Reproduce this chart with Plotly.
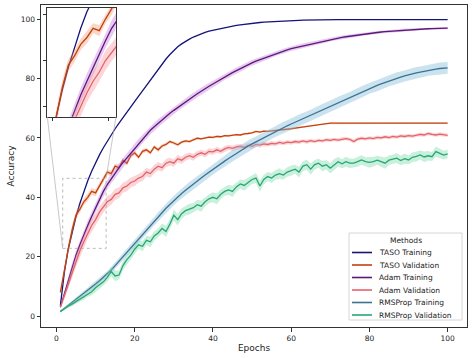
import plotly.graph_objects as go

epochs = list(range(1, 101))

series_names = ["TASO Training", "TASO Validation", "Adam Training",
                "Adam Validation", "RMSProp Training", "RMSProp Validation"]

taso_train = [3.5, 14.5, 22.5, 28.5, 33.5, 38, 42, 45.6, 48.8, 51.7,
              54.3, 56.7, 59, 61.1, 63.1, 65, 66.9, 68.7, 70.5, 72.3,
              74.1, 75.9, 77.7, 79.6, 81.5, 83.3, 85, 86.6, 88.1, 89.5,
              90.7, 91.7, 92.6, 93.3, 94, 94.6, 95.1, 95.6, 96, 96.3,
              96.6, 96.9, 97.2, 97.5, 97.7, 97.9, 98.1, 98.3, 98.5, 98.6,
              98.8, 98.9, 99, 99.1, 99.2, 99.3, 99.4, 99.45, 99.5, 99.55,
              99.6, 99.65, 99.7, 99.75, 99.8, 99.8, 99.82, 99.84, 99.86, 99.88,
              99.9, 99.9, 99.9, 99.9, 99.9, 99.9, 99.9, 99.9, 99.9, 99.9,
              99.9, 99.9, 99.9, 99.9, 99.9, 99.9, 99.9, 99.9, 99.9, 99.9,
              99.9, 99.9, 99.9, 99.9, 99.9, 99.9, 99.9, 99.9, 99.9, 99.9]

taso_val = [8, 16, 22.5, 29, 34, 36, 38.5, 40, 42, 41.5,
            44, 46, 48.5, 48, 50.5, 50, 52.5, 51.5, 54, 55,
            53.5, 55.5, 56, 55, 57, 56, 57.3, 57.8, 58.8, 58.3,
            57.7, 58.6, 59, 58.8, 59.4, 59.9, 59.7, 60.1, 60.3, 60.2,
            60.5, 60.4, 60.8, 60.7, 61, 61.1, 61, 61.4, 61.5, 61.7,
            62.2, 62, 62.3, 62.2, 62.4, 62.5, 62.7, 62.7, 62.9, 63.1,
            63.3, 63.5, 63.7, 63.8, 64.1, 64.3, 64.6, 64.8, 64.9, 65,
            65, 65, 65, 65, 65, 65, 65, 65, 65, 65,
            65, 65, 65, 65, 65, 65, 65, 65, 65, 65,
            65, 65, 65, 65, 65, 65, 65, 65, 65, 65]

adam_train = [3, 7.5, 12, 16.5, 20.5, 24, 27.5, 30.5, 33.5, 36.5,
              39.3, 42, 44.3, 46.3, 48.2, 50, 51.7, 53.3, 55, 56.6,
              58.2, 59.7, 61.1, 62.6, 63.8, 65, 66.1, 67.2, 68.3, 69.3,
              70.3, 71.3, 72.2, 73.1, 74, 74.9, 75.8, 76.6, 77.4, 78.2,
              79, 79.8, 80.6, 81.3, 82, 82.7, 83.4, 84, 84.7, 85.3,
              85.9, 86.4, 86.9, 87.4, 87.9, 88.4, 88.9, 89.3, 89.7, 90.1,
              90.4, 90.8, 91.1, 91.4, 91.7, 92, 92.3, 92.6, 92.9, 93.2,
              93.4, 93.7, 93.9, 94.1, 94.3, 94.5, 94.7, 94.9, 95.1, 95.2,
              95.4, 95.5, 95.7, 95.8, 95.9, 96, 96.2, 96.3, 96.4, 96.5,
              96.55, 96.6, 96.7, 96.75, 96.8, 96.85, 96.9, 96.95, 97, 97]

adam_val = [3, 6.5, 10.5, 14.5, 18.5, 22, 25, 28, 30.5, 32.5,
            35, 36.8, 38.5, 39.3, 41, 41.5, 43.2, 43.8, 45, 45.5,
            46.5, 47, 48.5, 48, 49.5, 50.5, 50, 51.5, 52, 51.5,
            53, 52.5, 53.5, 54, 53.5, 54.5, 55, 54.5, 55.5, 55.3,
            56, 55.5, 56.3, 56.8, 56.5, 57, 57.2, 56.8, 57.5, 57.2,
            57.8, 57.6, 58, 57.8, 58.2, 58, 58.5, 58.2, 58.6, 58.4,
            58.8, 58.6, 59, 58.7, 59.1, 58.8, 59.2, 59, 59.4, 59.2,
            59.5, 59.3, 59.6, 59.8, 59.5, 58.8, 59.6, 59.9, 59.7, 60,
            59.8, 60.2, 60, 60.4, 60.1, 60.5, 60.3, 60.7, 60.5, 60.8,
            60.6, 61, 61.2, 61, 61.5, 61.2, 61, 61.3, 61, 60.9]

rms_train = [1.5, 2.5, 3.5, 4.5, 5.5, 6.5, 7.6, 8.6, 9.7, 10.8,
             11.9, 13, 14.2, 15.5, 17, 18.5, 20, 21.5, 23, 24.5,
             26, 27.5, 29, 30.5, 32, 33.5, 35, 36.3, 37.6, 38.9,
             40.2, 41.3, 42.4, 43.5, 44.5, 45.5, 46.5, 47.5, 48.5, 49.5,
             50.4, 51.3, 52.2, 53.1, 54, 54.9, 55.7, 56.5, 57.3, 58,
             58.7, 59.4, 60.1, 60.8, 61.5, 62.2, 62.9, 63.5, 64.1, 64.7,
             65.3, 65.9, 66.5, 67.1, 67.7, 68.3, 68.9, 69.5, 70.1, 70.7,
             71.3, 71.9, 72.5, 73.1, 73.7, 74.3, 74.9, 75.5, 76.1, 76.7,
             77.2, 77.7, 78.2, 78.7, 79.2, 79.7, 80.1, 80.5, 80.9, 81.3,
             81.6, 81.9, 82.2, 82.5, 82.8, 83, 83.2, 83.4, 83.5, 83.6]

rms_val = [1.5, 2.5, 3.3, 4, 4.8, 5.8, 6.5, 7.5, 8.2, 9.5,
           10.5, 11.5, 13, 15, 13.5, 13.8, 17, 19, 20.5, 22.5,
           24, 23.5, 25.5, 25, 27, 28, 29.5, 28.5, 31, 34,
           32.5, 34.5, 35.5, 36, 36.5, 37.5, 37, 38.5, 39.5, 40,
           39.5, 41, 42, 42.5, 42, 43.5, 44.5, 44, 45, 46,
           46.5, 43.8, 46, 47, 46.5, 47.5, 48, 47.5, 48.5, 49,
           49.5, 48.5, 50.5, 51, 49.5, 51, 51.5, 50.5, 51, 49.8,
           51, 52, 51.3, 52, 51.5, 51.5, 52, 52.6, 52, 51.8,
           52, 52.5, 52, 51.5, 52.5, 52.8, 53.2, 52.4, 53, 52.6,
           53.5, 53.8, 54.3, 53.6, 54, 53.7, 55.4, 54.8, 54.2, 54.6]

taso_val_sd = [0.8, 1.2, 1.5, 1.6, 1.4, 1.3, 1.2, 1.3, 1.1, 1.2,
               1.0, 1.1, 0.9, 1.0, 0.9, 1.0, 0.8, 0.9, 0.8, 0.8,
               0.7, 0.8, 0.7, 0.7, 0.6, 0.7, 0.6, 0.6, 0.5, 0.6,
               0.5, 0.5, 0.5, 0.5, 0.4, 0.5, 0.4, 0.4, 0.4, 0.4,
               0.4, 0.4, 0.3, 0.4, 0.3, 0.3, 0.3, 0.3, 0.3, 0.3,
               0.3, 0.3, 0.3, 0.3, 0.3, 0.3, 0.3, 0.3, 0.3, 0.3,
               0.3, 0.3, 0.3, 0.3, 0.2, 0.2, 0.2, 0.2, 0.2, 0.2,
               0.2, 0.2, 0.2, 0.2, 0.2, 0.2, 0.2, 0.2, 0.2, 0.2,
               0.2, 0.2, 0.2, 0.2, 0.2, 0.2, 0.2, 0.2, 0.2, 0.2,
               0.2, 0.2, 0.2, 0.2, 0.2, 0.2, 0.2, 0.2, 0.2, 0.2]

adam_train_sd = [0.5, 0.9, 1.2, 1.4, 1.5, 1.6, 1.6, 1.7, 1.6, 1.7,
                 1.6, 1.7, 1.6, 1.6, 1.5, 1.6, 1.5, 1.5, 1.5, 1.4,
                 1.5, 1.4, 1.4, 1.4, 1.3, 1.4, 1.3, 1.3, 1.3, 1.3,
                 1.2, 1.3, 1.2, 1.2, 1.2, 1.2, 1.1, 1.2, 1.1, 1.1,
                 1.1, 1.1, 1.0, 1.1, 1.0, 1.0, 1.0, 1.0, 0.9, 1.0,
                 0.9, 0.9, 0.9, 0.9, 0.9, 0.8, 0.9, 0.8, 0.8, 0.8,
                 0.8, 0.8, 0.7, 0.8, 0.7, 0.7, 0.7, 0.7, 0.7, 0.6,
                 0.7, 0.6, 0.6, 0.6, 0.6, 0.6, 0.6, 0.5, 0.6, 0.5,
                 0.5, 0.5, 0.5, 0.5, 0.5, 0.5, 0.5, 0.4, 0.5, 0.4,
                 0.4, 0.4, 0.4, 0.4, 0.4, 0.4, 0.4, 0.4, 0.4, 0.4]

adam_val_sd = [0.5, 1.0, 1.4, 1.7, 1.9, 2.0, 2.1, 2.0, 2.2, 2.0,
               2.1, 1.9, 2.0, 1.8, 1.9, 1.8, 1.7, 1.8, 1.6, 1.7,
               1.5, 1.6, 1.5, 1.4, 1.5, 1.4, 1.3, 1.4, 1.3, 1.2,
               1.3, 1.2, 1.2, 1.1, 1.2, 1.1, 1.0, 1.1, 1.0, 1.0,
               1.0, 0.9, 1.0, 0.9, 0.9, 0.9, 0.8, 0.9, 0.8, 0.8,
               0.8, 0.8, 0.8, 0.7, 0.8, 0.7, 0.7, 0.7, 0.7, 0.7,
               0.7, 0.7, 0.6, 0.7, 0.6, 0.6, 0.6, 0.6, 0.6, 0.6,
               0.6, 0.6, 0.6, 0.6, 0.6, 0.7, 0.6, 0.6, 0.6, 0.6,
               0.6, 0.6, 0.6, 0.6, 0.6, 0.6, 0.6, 0.6, 0.6, 0.6,
               0.6, 0.6, 0.6, 0.6, 0.6, 0.6, 0.6, 0.6, 0.6, 0.6]

rms_train_sd = [0.3, 0.4, 0.5, 0.6, 0.7, 0.7, 0.8, 0.8, 0.9, 0.9,
                1.0, 1.0, 1.0, 1.1, 1.1, 1.1, 1.2, 1.2, 1.2, 1.3,
                1.3, 1.3, 1.4, 1.4, 1.4, 1.5, 1.5, 1.5, 1.6, 1.6,
                1.6, 1.6, 1.7, 1.7, 1.7, 1.7, 1.8, 1.8, 1.8, 1.8,
                1.8, 1.9, 1.8, 1.9, 1.9, 1.8, 1.9, 2.0, 1.9, 1.9,
                1.8, 1.9, 2.0, 1.9, 1.8, 1.9, 1.9, 2.0, 1.9, 1.8,
                1.9, 2.0, 1.9, 1.9, 1.8, 1.9, 2.0, 1.9, 1.9, 1.8,
                1.9, 2.0, 1.9, 1.9, 1.8, 1.9, 2.0, 1.9, 1.9, 1.8,
                1.9, 2.0, 1.9, 1.9, 1.8, 1.9, 2.0, 1.9, 1.9, 1.8,
                1.9, 2.0, 1.9, 1.9, 1.8, 1.9, 2.0, 2.0, 2.0, 2.0]

rms_val_sd = [0.3, 0.5, 0.6, 0.7, 0.8, 0.9, 1.0, 1.0, 1.2, 1.1,
              1.3, 1.2, 1.4, 1.6, 1.8, 1.5, 1.6, 1.7, 1.5, 1.6,
              1.4, 1.7, 1.5, 1.8, 1.6, 1.5, 1.7, 1.9, 1.6, 1.8,
              2.0, 1.7, 1.6, 1.8, 1.5, 1.7, 1.9, 1.6, 1.5, 1.7,
              1.8, 1.6, 1.5, 1.7, 1.9, 1.6, 1.5, 1.8, 1.6, 1.5,
              1.7, 1.9, 1.6, 1.5, 1.7, 1.6, 1.8, 1.5, 1.6, 1.7,
              1.5, 1.8, 1.6, 1.7, 1.9, 1.6, 1.5, 1.7, 1.6, 1.8,
              1.9, 1.6, 1.5, 1.7, 1.6, 1.5, 1.7, 1.6, 1.5, 1.8,
              1.6, 1.5, 1.7, 1.9, 1.6, 1.5, 1.7, 1.6, 1.8, 1.5,
              1.6, 1.7, 1.5, 1.8, 1.6, 1.5, 1.7, 1.6, 1.5, 1.4]

x_ticks = [0, 20, 40, 60, 80, 100]
y_ticks = [0, 20, 40, 60, 80, 100]
inset_x_range = [1.6, 12.7]
inset_y_range = [22.8, 46.4]
inset_x_ticks = [2.5, 11.5]
inset_y_ticks = [25, 35, 45]

line_colors = ["#14147a", "#c2410c", "#5a1a78", "#e5636a", "#3b7391", "#27a772"]
band_colors = [None, "rgba(240,140,100,0.35)", "rgba(200,120,220,0.40)",
               "rgba(245,150,155,0.40)", "rgba(140,190,220,0.45)",
               "rgba(120,215,170,0.40)"]

values = [taso_train, taso_val, adam_train, adam_val, rms_train, rms_val]
spreads = [None, taso_val_sd, adam_train_sd, adam_val_sd, rms_train_sd, rms_val_sd]

X_RANGE = [-3.95, 104.95]
Y_RANGE = [-3.7, 104.8]

fig = go.Figure()
for axes in [("x", "y"), ("x2", "y2")]:
    for name, vals, sd, lc, bc in zip(series_names, values, spreads, line_colors, band_colors):
        if sd is not None:
            upper = [v + s for v, s in zip(vals, sd)]
            lower = [v - s for v, s in zip(vals, sd)]
            fig.add_trace(go.Scatter(
                x=epochs + epochs[::-1], y=upper + lower[::-1],
                fill="toself", fillcolor=bc, line=dict(width=0),
                mode="lines", hoverinfo="skip", showlegend=False,
                xaxis=axes[0], yaxis=axes[1]))
        fig.add_trace(go.Scatter(
            x=epochs, y=vals, mode="lines", name=name,
            line=dict(color=lc, width=1.3), showlegend=False,
            xaxis=axes[0], yaxis=axes[1]))

# geometry of main plot area (pixels)
W, H = 474, 358
ML, MR, MT, MB = 41, 7, 5, 31

def px_x(p):
    return (p - ML) / (W - ML - MR)

def px_y(p):
    return (H - MB - p) / (H - MT - MB)

ins_dom_x = [px_x(47.3), px_x(116)]
ins_dom_y = [px_y(116.7), px_y(8)]

axis_common = dict(showgrid=False, zeroline=False, showline=True, mirror=True,
                   linecolor="#333333", linewidth=1, ticks="outside",
                   ticklen=3.5, tickwidth=1, tickcolor="#333333")
font_family = "DejaVu Sans"

fig.update_layout(
    width=W, height=H, autosize=False,
    margin=dict(l=ML, r=MR, t=MT, b=MB),
    paper_bgcolor="white", plot_bgcolor="white",
    font=dict(family=font_family, size=7.5, color="#222222"),
    showlegend=False,
    xaxis=dict(range=X_RANGE, tickvals=x_ticks, domain=[0, 1],
               title=dict(text="Epochs", standoff=3), **axis_common),
    yaxis=dict(range=Y_RANGE, tickvals=y_ticks, domain=[0, 1],
               title=dict(text="Accuracy", standoff=4), **axis_common),
    xaxis2=dict(range=inset_x_range, tickvals=inset_x_ticks, domain=ins_dom_x,
                anchor="y2", showticklabels=False, **axis_common),
    yaxis2=dict(range=inset_y_range, tickvals=inset_y_ticks, domain=ins_dom_y,
                anchor="x2", showticklabels=False, **axis_common),
)

# zoom rectangle and connectors
def data_to_paper(x, y):
    return ((x - X_RANGE[0]) / (X_RANGE[1] - X_RANGE[0]),
            (y - Y_RANGE[0]) / (Y_RANGE[1] - Y_RANGE[0]))

fig.add_shape(type="rect", xref="x", yref="y",
              x0=inset_x_range[0], x1=inset_x_range[1],
              y0=inset_y_range[0], y1=inset_y_range[1],
              line=dict(color="#aaaaaa", width=0.8, dash="dot"))
bl = data_to_paper(inset_x_range[0], inset_y_range[0])
tr = data_to_paper(inset_x_range[1], inset_y_range[1])
fig.add_shape(type="line", xref="paper", yref="paper",
              x0=ins_dom_x[0], y0=ins_dom_y[0], x1=bl[0], y1=bl[1],
              line=dict(color="#b0b0b0", width=0.7))
fig.add_shape(type="line", xref="paper", yref="paper",
              x0=ins_dom_x[1], y0=ins_dom_y[0], x1=tr[0], y1=tr[1],
              line=dict(color="#b0b0b0", width=0.7))

# legend box (matplotlib style)
lx0, lx1, ly0, ly1 = px_x(349), px_x(462), px_y(320), px_y(233)
fig.add_shape(type="rect", xref="paper", yref="paper", x0=lx0, x1=lx1, y0=ly0, y1=ly1,
              line=dict(color="#cccccc", width=0.8), fillcolor="rgba(255,255,255,0.85)",
              layer="above")
fig.add_annotation(xref="paper", yref="paper", x=(lx0 + lx1) / 2, y=px_y(240.5),
                   text="Methods", showarrow=False, xanchor="center", yanchor="middle",
                   font=dict(size=7.5, color="#222222"))
for i, (name, lc) in enumerate(zip(series_names, line_colors)):
    yy = px_y(252.5 + 12.5 * i)
    fig.add_shape(type="line", xref="paper", yref="paper",
                  x0=px_x(352), x1=px_x(372), y0=yy, y1=yy,
                  line=dict(color=lc, width=1.6), layer="above")
    fig.add_annotation(xref="paper", yref="paper", x=px_x(376.5), y=yy,
                       text=name, showarrow=False, xanchor="left", yanchor="middle",
                       font=dict(size=7.5, color="#222222"))

fig.write_html("out.html", config={"displayModeBar": False},
               post_script="document.body.style.margin='0';document.body.style.overflow='hidden';")
